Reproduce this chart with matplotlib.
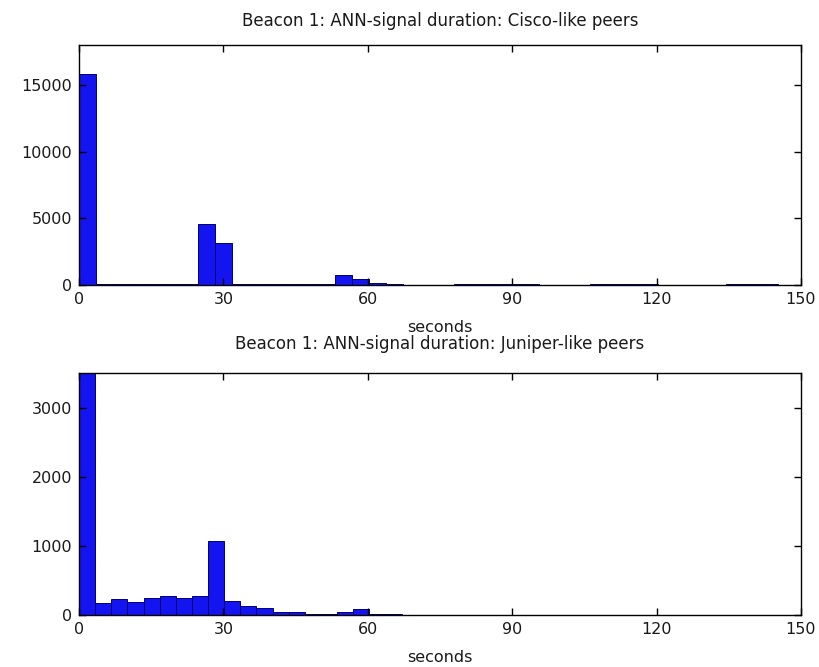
import numpy as np
import matplotlib
matplotlib.use("Agg")
import matplotlib.pyplot as plt

# ---- data ----
cisco_bin_width = 3.54
cisco_counts = [15850, 80, 60, 50, 50, 50, 60, 4550, 3180, 50, 50, 40, 40, 50, 50,
                780, 430, 150, 100, 20, 10, 10, 60, 60, 60, 60, 60, 5, 5, 10,
                60, 60, 60, 60, 5, 5, 5, 5, 60, 60, 60, 0, 0]

juniper_bin_width = 3.35
juniper_counts = [5200, 169, 232, 193, 242, 280, 242, 280, 1077, 208, 135, 100, 50,
                  45, 20, 20, 50, 90, 15, 10, 5, 5, 5, 4, 4, 3, 3, 3, 3, 3, 3,
                  3, 2, 2, 2, 2, 2, 2, 2, 2, 2, 2, 2, 2, 2]

x_ticks = [0, 30, 60, 90, 120, 150]
cisco_yticks = [0, 5000, 10000, 15000]
juniper_yticks = [0, 1000, 2000, 3000]
titles = ["Beacon 1: ANN-signal duration: Cisco-like peers",
          "Beacon 1: ANN-signal duration: Juniper-like peers"]
xlabel = "seconds"

plt.rcParams['font.family'] = ['DejaVu Sans']

fig = plt.figure(figsize=(8.19, 6.67), dpi=100)
ax1 = fig.add_axes([0.0965, 0.5727, 0.8815, 0.3598])
ax2 = fig.add_axes([0.0965, 0.0780, 0.8815, 0.3628])

face = '#1414f0'
edge = '#000070'
txt = '#1a1a1a'


def draw(ax, counts, width, ylim, yticks, title, title_pad):
    lefts = np.arange(len(counts)) * width
    ax.bar(lefts, counts, width=width, align='edge', color=face,
           edgecolor=edge, linewidth=0.7)
    ax.set_xlim(0, 150)
    ax.set_ylim(0, ylim)
    ax.set_xticks(x_ticks)
    ax.set_yticks(yticks)
    ax.tick_params(direction='in', length=5, width=1, top=True, right=True,
                   labelsize=11.5, labelcolor=txt, pad=5)
    for s in ax.spines.values():
        s.set_linewidth(1.0)
        s.set_color('black')
    ax.set_title(title, fontsize=12, color=txt, pad=title_pad)
    ax.set_xlabel(xlabel, fontsize=11.5, color=txt)
    ax.xaxis.set_label_coords(0.5, -0.145)


draw(ax1, cisco_counts, cisco_bin_width, 18000, cisco_yticks, titles[0], 14)
draw(ax2, juniper_counts, juniper_bin_width, 3500, juniper_yticks, titles[1], 17)

fig.savefig("out.png", dpi=100)
